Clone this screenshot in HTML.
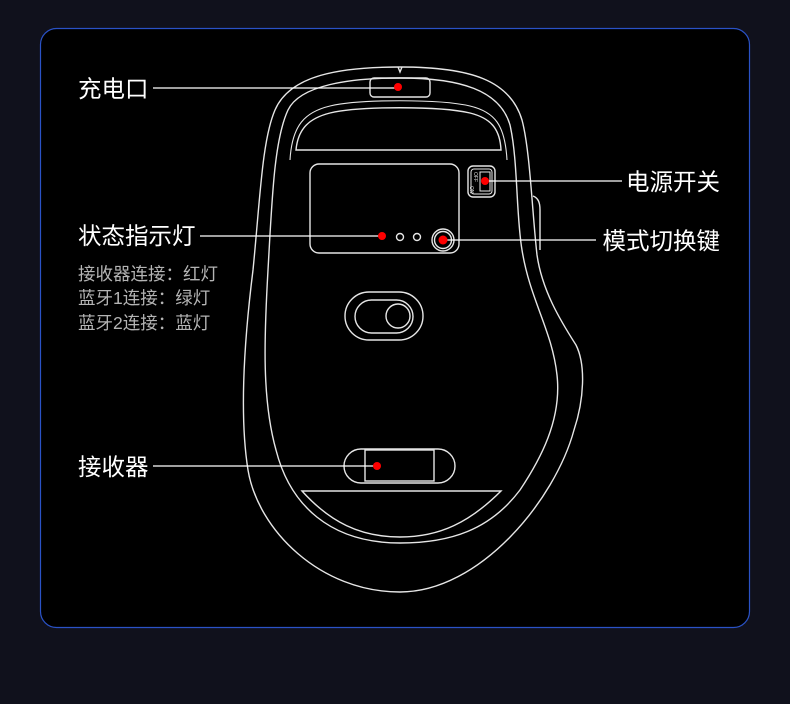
<!DOCTYPE html>
<html><head><meta charset="utf-8"><style>
html,body{margin:0;padding:0;background:#10111c;width:790px;height:704px;overflow:hidden}
svg{display:block}
text{font-family:"Liberation Sans","Noto Sans CJK SC",sans-serif}
</style></head><body>
<svg width="790" height="704" viewBox="0 0 790 704" xmlns="http://www.w3.org/2000/svg">
<rect x="40.5" y="28.5" width="709" height="599" rx="16" fill="#000" stroke="#2a52c6" stroke-width="1.2"/>
<g fill="none" stroke="#e6e6e6" stroke-width="1.4">
<path d="M400 67 C470 67 510 80 522 120 C530 150 532 210 537 255 C542 290 560 320 576 345 C586 365 584 400 574 430 C555 500 480 592 400 592 C320 592 258 530 248 470 C240 420 243 350 253 270 C260 200 262 140 275 110 C290 75 340 67 400 67 Z"/>
<path d="M398 67 L400 72 L402 67"/>
<path d="M400 78 C460 78 500 90 510 125 C518 160 516 215 522 250 C530 300 552 330 557 375 C562 420 540 460 520 490 C490 530 450 543 400 543 C330 543 290 505 276 450 C262 400 264 340 268 270 C272 200 274 140 288 110 C300 85 350 78 400 78 Z"/>
<path d="M296 150 C298 128 310 118 330 113 C360 106 440 106 470 113 C490 118 500 128 501 150 Z"/>
<path d="M290 160 C292 125 305 112 330 106 C360 99 440 99 470 106 C495 112 505 125 507 160" stroke-width="1.1"/>
<path d="M533 196 C538 198 540 202 540 210 L540 250"/>
<rect x="370" y="78" width="60" height="19" rx="4"/>
<rect x="310" y="164" width="149" height="89" rx="9"/>
<circle cx="400" cy="237" r="3.5"/>
<circle cx="417" cy="237" r="3.5"/>
<circle cx="443" cy="240" r="11"/>
<circle cx="443" cy="240" r="8.5"/>
<rect x="468" y="166" width="27" height="31" rx="5"/>
<rect x="471" y="169" width="21" height="25" rx="3" stroke-width="1"/>
<rect x="480" y="172" width="10" height="19" stroke-width="1"/>
<rect x="345" y="292" width="78" height="48" rx="24"/>
<rect x="355" y="300" width="58" height="33" rx="16.5"/>
<circle cx="398" cy="316" r="12"/>
<rect x="344" y="449" width="111" height="34" rx="17"/>
<rect x="365" y="450" width="69" height="31"/>
<path d="M302 491 L501 491 C470 522 440 537 400 537 C360 537 330 522 302 491 Z"/>
</g>
<g font-size="5" fill="#ddd" font-family="Liberation Sans">
<text x="474" y="172" transform="rotate(90 474 172)">OFF</text>
<text x="470" y="186" transform="rotate(90 470 186)">ON</text>
</g>
<g stroke="#fff" stroke-width="1.2">
<line x1="153" y1="88" x2="398" y2="88"/>
<line x1="485" y1="181" x2="622" y2="181"/>
<line x1="200" y1="236" x2="382" y2="236"/>
<line x1="443" y1="240" x2="596" y2="240"/>
<line x1="153" y1="466" x2="377" y2="466"/>
</g>
<g fill="#ff0000">
<circle cx="398" cy="87" r="4"/>
<circle cx="485" cy="181" r="4"/>
<circle cx="382" cy="236" r="4"/>
<circle cx="443" cy="240" r="4.5"/>
<circle cx="377" cy="466" r="4"/>
</g>
<g fill="#fff" font-size="23.5">
<text x="78" y="97">充电口</text>
<text x="78" y="244">状态指示灯</text>
<text x="720" y="190" text-anchor="end">电源开关</text>
<text x="720" y="249" text-anchor="end">模式切换键</text>
<text x="78" y="475">接收器</text>
</g>
<g fill="#b4b4b4" font-size="17.5">
<text x="78" y="280">接收器连接：红灯</text>
<text x="78" y="304">蓝牙1连接：绿灯</text>
<text x="78" y="329">蓝牙2连接：蓝灯</text>
</g>
</svg>
</body></html>
